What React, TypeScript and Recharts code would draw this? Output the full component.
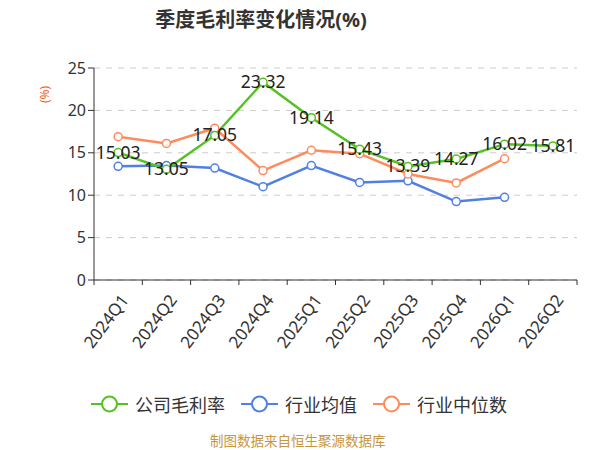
import React from 'react';
import { LineChart, Line, XAxis, YAxis, CartesianGrid, LabelList } from 'recharts';

const quarters = ['2024Q1', '2024Q2', '2024Q3', '2024Q4', '2025Q1', '2025Q2', '2025Q3', '2025Q4', '2026Q1', '2026Q2'];
const companyMargin = [15.03, 13.05, 17.05, 23.32, 19.14, 15.43, 13.39, 14.27, 16.02, 15.81];
const industryAvg = [13.4, 13.5, 13.2, 11.0, 13.5, 11.5, 11.7, 9.25, 9.75, null];
const industryMedian = [16.9, 16.1, 17.9, 12.9, 15.3, 14.9, 12.5, 11.45, 14.3, null];
const yTicks = [0, 5, 10, 15, 20, 25];

const GREEN = '#55c224';
const BLUE = '#4f80e2';
const ORANGE = '#ff8b5c';
const FONT = '"Noto Sans", "Noto Sans CJK SC", sans-serif';

const data = quarters.map((q, i) => ({
    quarter: q,
    company: companyMargin[i],
    avg: industryAvg[i],
    median: industryMedian[i],
}));

const legendItems = [
    { name: '公司毛利率', color: GREEN },
    { name: '行业均值', color: BLUE },
    { name: '行业中位数', color: ORANGE },
];

const QuarterTick = (props: any) => {
    const { x, y, payload, index, width } = props;
    const band = width / quarters.length;
    const tx = x + 2;
    const ty = y + 5;
    return (
        <g>
            <line x1={x - band / 2} y1={y - 8} x2={x - band / 2} y2={y - 3} stroke="#333" />
            {index === quarters.length - 1 && (
                <line x1={x + band / 2} y1={y - 8} x2={x + band / 2} y2={y - 3} stroke="#333" />
            )}
            <text
                x={tx}
                y={ty}
                textAnchor="end"
                fontSize={17}
                fill="#333"
                fontFamily={FONT}
                transform={`rotate(-53, ${tx}, ${ty})`}
                dy="0.7em"
            >
                {payload.value}
            </text>
        </g>
    );
};

const ValueLabel = (props: any) => {
    const { x, y, value } = props;
    return (
        <text x={x} y={y} dy={6} textAnchor="middle" fontSize={17.5} fill="#222" fontFamily={FONT}>
            {Number(value).toFixed(2)}
        </text>
    );
};

const LegendIcon = ({ color }: { color: string }) => (
    <svg width={37} height={18} style={{ marginRight: 7 }}>
        <line x1={0} y1={9} x2={37} y2={9} stroke={color} strokeWidth={2} />
        <circle cx={18.5} cy={9} r={7.5} fill="#fff" stroke={color} strokeWidth={2} />
    </svg>
);

export default function App() {
    return (
        <div style={{ position: 'absolute', left: 0, top: 0, width: 600, height: 450, background: '#fff', fontFamily: FONT }}>
            <div style={{ position: 'absolute', left: 0, width: 522, top: 4, textAlign: 'center', fontSize: 20, fontWeight: 'bold', color: '#333' }}>
                季度毛利率变化情况(%)
            </div>
            <div style={{ position: 'absolute', left: 36, top: 86, fontSize: 12, color: '#e8632b', transform: 'rotate(-90deg)' }}>
                (%)
            </div>
            <LineChart width={600} height={450} data={data} margin={{ top: 68, right: 23, left: 0, bottom: 60 }}>
                <CartesianGrid vertical={false} stroke="#ccc" strokeDasharray="6 6" />
                <XAxis
                    dataKey="quarter"
                    scale="band"
                    height={110}
                    interval={0}
                    tickLine={false}
                    axisLine={{ stroke: '#333' }}
                    tick={<QuarterTick />}
                />
                <YAxis
                    width={94}
                    domain={[0, 25]}
                    ticks={yTicks}
                    axisLine={{ stroke: '#333' }}
                    tickLine={{ stroke: '#333' }}
                    tickSize={6}
                    tick={{ fontSize: 16, fill: '#333', fontFamily: FONT }}
                />
                <Line
                    dataKey="avg"
                    stroke={BLUE}
                    strokeWidth={2.5}
                    dot={{ r: 4, fill: '#fff', stroke: BLUE, strokeWidth: 1.5 }}
                    isAnimationActive={false}
                />
                <Line
                    dataKey="median"
                    stroke={ORANGE}
                    strokeWidth={2.5}
                    dot={{ r: 4, fill: '#fff', stroke: ORANGE, strokeWidth: 1.5 }}
                    isAnimationActive={false}
                />
                <Line
                    dataKey="company"
                    stroke={GREEN}
                    strokeWidth={2.5}
                    dot={{ r: 4, fill: '#fff', stroke: GREEN, strokeWidth: 1.5 }}
                    isAnimationActive={false}
                >
                    <LabelList dataKey="company" content={<ValueLabel />} />
                </Line>
            </LineChart>
            <div style={{ position: 'absolute', left: 91, top: 391, display: 'flex', alignItems: 'center', fontSize: 18, color: '#333' }}>
                {legendItems.map((item) => (
                    <div key={item.name} style={{ display: 'flex', alignItems: 'center', marginRight: 16 }}>
                        <LegendIcon color={item.color} />
                        <span>{item.name}</span>
                    </div>
                ))}
            </div>
            <div style={{ position: 'absolute', left: 210, top: 431, fontSize: 13.5, lineHeight: '20px', whiteSpace: 'nowrap', color: '#c8963e' }}>
                制图数据来自恒生聚源数据库
            </div>
        </div>
    );
}
